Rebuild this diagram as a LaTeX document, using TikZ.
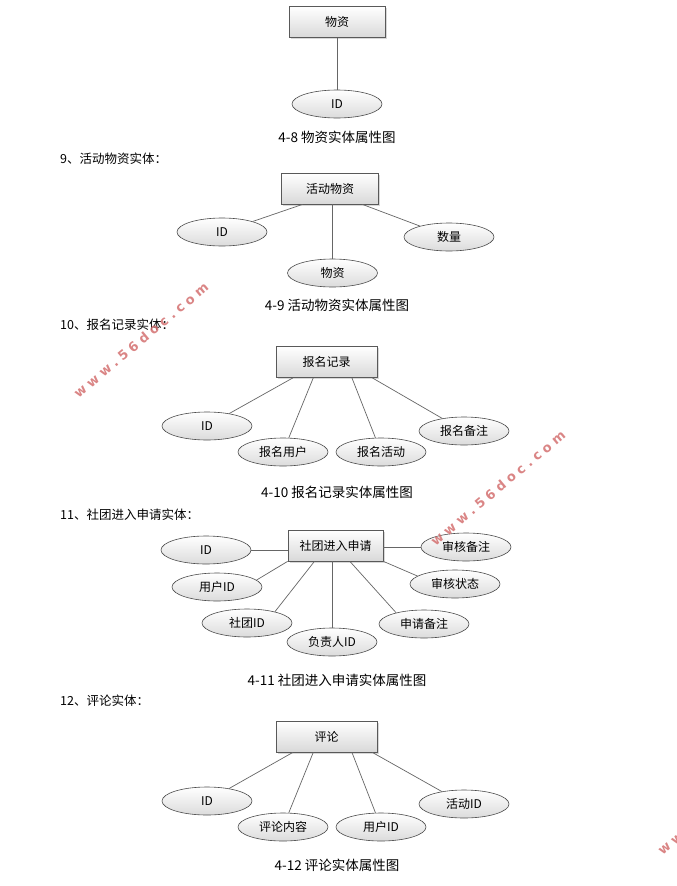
\documentclass[tikz,border=0pt]{standalone}
\usepackage{fontspec}
\setmainfont{Noto Sans CJK SC}
\newfontfamily\wmfont[LetterSpace=33]{DejaVu Sans Bold}
\usetikzlibrary{shapes.geometric,shadows,calc}
\definecolor{wmred}{RGB}{212,112,112}
\begin{document}
\begin{tikzpicture}[x=1pt,y=-1pt,
  entity/.style={draw=black!65, line width=0.7pt, top color=white, bottom color=black!15,
    minimum width=96, minimum height=31, inner sep=0, font=\fontsize{12}{14}\selectfont,
    drop shadow={shadow xshift=1.5pt, shadow yshift=-1.5pt, opacity=0.3}},
  attr/.style={ellipse, draw=black!70, line width=0.6pt, top color=white, bottom color=black!14,
    minimum width=90, minimum height=28, inner sep=0, font=\fontsize{12}{14}\selectfont},
  link/.style={draw=black!60, line width=0.7pt},
  caption/.style={inner sep=0, font=\fontsize{13.5}{15}\selectfont},
  heading/.style={anchor=west, inner sep=0, font=\fontsize{12.5}{14}\selectfont},
  wm/.style={text=wmred, font=\wmfont\fontsize{13}{15}\selectfont, rotate=40, opacity=0.85}]
\clip (0,0) rectangle (677,886);
\fill[white] (0,0) rectangle (677,886);

% ---------- 4-8
\node[entity, minimum width=96] (b8) at (337,22) {物资};
\node[attr] (e8) at (337,104) {ID};
\draw[link] (b8.south) -- (e8.north);
\node[caption] (c8) at (337,137) {4-8 物资实体属性图};

% ---------- 4-9
\node[heading] (h9) at (60,159) {9、活动物资实体：};
\node[entity, minimum width=97] (b9) at (330,188.5) {活动物资};
\node[attr] (e9a) at (222,232) {ID};
\node[attr] (e9b) at (332.5,273) {物资};
\node[attr] (e9c) at (449,237) {数量};
\draw[link] ($(b9.south west)!0.22!(b9.south east)$) -- (e9a);
\draw[link] (e9b.north |- b9.south) -- (e9b.north);
\draw[link] ($(b9.south west)!0.83!(b9.south east)$) -- (e9c);
\node[caption] (c9) at (337,305) {4-9 活动物资实体属性图};

% ---------- 4-10
\node[heading] (h10) at (60,325) {10、报名记录实体：};
\node[entity, minimum width=101] (b10) at (326.5,362) {报名记录};
\node[attr] (e10a) at (207,426) {ID};
\node[attr] (e10b) at (283,452) {报名用户};
\node[attr] (e10c) at (381,452) {报名活动};
\node[attr] (e10d) at (464,431) {报名备注};
\draw[link] ($(b10.south west)!0.17!(b10.south east)$) -- (e10a);
\draw[link] ($(b10.south west)!0.37!(b10.south east)$) -- (e10b);
\draw[link] ($(b10.south west)!0.75!(b10.south east)$) -- (e10c);
\draw[link] ($(b10.south west)!0.95!(b10.south east)$) -- (e10d);
\node[caption] (c10) at (337,492) {4-10 报名记录实体属性图};

% ---------- 4-11
\node[heading] (h11) at (60,515) {11、社团进入申请实体：};
\node[entity, minimum width=95] (b11) at (335.5,545.5) {社团进入申请};
\node[attr] (e11a) at (206,550) {ID};
\node[attr] (e11b) at (217,587) {用户ID};
\node[attr] (e11c) at (247,623) {社团ID};
\node[attr] (e11d) at (332,642) {负责人ID};
\node[attr] (e11e) at (424,624) {申请备注};
\node[attr] (e11f) at (455,584) {审核状态};
\node[attr] (e11g) at (466,547) {审核备注};
\draw[link] (e11a.east) -- (e11a.east -| b11.west);
\draw[link] (b11.south west) -- (e11b.10);
\draw[link] ($(b11.south west)!0.28!(b11.south east)$) -- (e11c.22);
\draw[link] (e11d.north |- b11.south) -- (e11d.north);
\draw[link] ($(b11.south west)!0.65!(b11.south east)$) -- (e11e.158);
\draw[link] (b11.south east) -- (e11f.168);
\draw[link] (b11.east |- e11g.west) -- (e11g.west);
\node[caption] (c11) at (337,680) {4-11 社团进入申请实体属性图};

% ---------- 4-12
\node[heading] (h12) at (60,701) {12、评论实体：};
\node[entity, minimum width=101] (b12) at (326.5,736.5) {评论};
\node[attr] (e12a) at (207,801) {ID};
\node[attr] (e12b) at (283,827) {评论内容};
\node[attr] (e12c) at (381,827) {用户ID};
\node[attr] (e12d) at (464,804) {活动ID};
\draw[link] ($(b12.south west)!0.17!(b12.south east)$) -- (e12a);
\draw[link] ($(b12.south west)!0.37!(b12.south east)$) -- (e12b);
\draw[link] ($(b12.south west)!0.75!(b12.south east)$) -- (e12c);
\draw[link] ($(b12.south west)!0.95!(b12.south east)$) -- (e12d);
\node[caption] (c12) at (337,865) {4-12 评论实体属性图};

% ---------- watermarks
\node[wm] (w1) at (141,340) {www.56doc.com};
\node[wm] (w2) at (498,488) {www.56doc.com};
\node[wm] (w3) at (725,797) {www.56doc.com};
\end{tikzpicture}
\end{document}
